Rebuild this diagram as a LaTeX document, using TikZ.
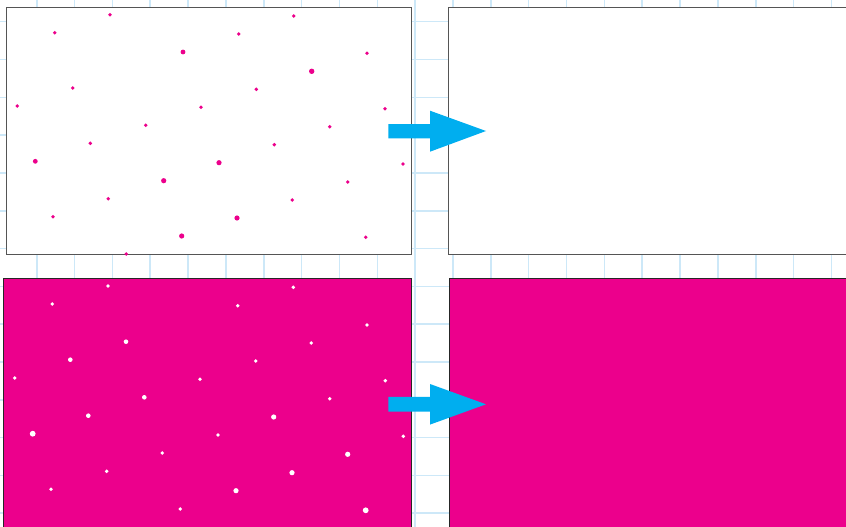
\documentclass[tikz,border=0pt]{standalone}
\definecolor{gridblue}{RGB}{205,232,248}
\definecolor{pmag}{RGB}{236,0,140}
\definecolor{pcyan}{RGB}{0,174,239}
\definecolor{frame}{RGB}{85,85,85}
\begin{document}
\begin{tikzpicture}[x=1pt,y=-1pt,
  gridline/.style={draw=gridblue,line width=1.6pt},
  panel/.style={draw=frame,line width=0.9pt},
  bigarrow/.style={fill=pcyan,draw=none}]
\useasboundingbox (0,0) rectangle (846,527);
\clip (0,0) rectangle (846,527);
\fill[white] (0,0) rectangle (846,527);
% grid
\foreach \i in {0,...,22} \draw[gridline] ({-1.1+37.84*\i},0) -- ++(0,527);
\foreach \j in {0,...,13} \draw[gridline] (0,{21.7+37.8*\j}) -- ++(846,0);
% panels
\draw[panel,fill=white] (6,7) rectangle (411,254);
\draw[panel,fill=white] (448.7,7) rectangle (852,254);
\draw[panel,draw=black!85,fill=pmag] (3.3,278.3) rectangle (411.7,532);
\draw[panel,draw=black!85,fill=pmag] (449,278.3) rectangle (852,532);
% dots top-left (magenta)
\foreach \x/\y/\r in {110/14.7/1.9, 293.7/16/1.9, 54.7/32.7/1.9, 238.7/34/1.9,
  183/52/2.4, 367/53.3/1.9, 311.7/71.3/2.7, 72.7/88/1.9, 256.3/89.3/1.9,
  17.3/106/1.9, 201/107.3/1.9, 385/108.7/1.9, 145.7/125.3/1.9, 329.7/126.7/1.9,
  90.3/143.3/1.9, 274.3/144.7/1.9, 35.3/161.3/2.4, 219/162.7/2.6, 403/164/1.9,
  163.7/180.7/2.6, 347.7/182/1.9, 108.3/198.7/1.9, 292.3/200/1.9, 53/216.7/1.9,
  237/218/2.6, 181.7/236/2.6, 365.7/237.3/1.9, 126.3/254/1.9}
  \fill[pmag] (\x,\y) circle (\r pt);
% dots bottom-left (white)
\foreach \x/\y/\r in {108/286/1.9, 293.3/287.3/1.9, 52.3/304/1.9, 237.7/305.7/1.9,
  367/325/1.9, 126/341.7/2.3, 311.3/343/1.9, 70.3/359.7/2.3, 255.7/361/1.9,
  14.7/378/1.9, 200/379.3/1.9, 385.3/380.7/1.9, 144.3/397.3/2.3, 329.7/398.7/1.9,
  88.3/415.7/2.3, 273.7/417/2.6, 32.7/433.7/2.9, 218/435/1.9, 403.3/436.3/1.9,
  162.3/453/1.9, 347.7/454.3/2.6, 106.7/471.3/1.9, 292/472.7/2.6, 51/489.3/1.9,
  236/490.7/2.6, 180.3/509/1.9, 365.7/510.3/2.9}
  \fill[white] (\x,\y) circle (\r pt);
% arrows
\fill[bigarrow] (388.3,124) -- (430,124) -- (430,110.7) -- (486,131)
  -- (430,151.7) -- (430,138.3) -- (388.3,138.3) -- cycle;
\fill[bigarrow] (388.3,396.9) -- (430,396.9) -- (430,384) -- (486,404.3)
  -- (430,424.6) -- (430,411.7) -- (388.3,411.7) -- cycle;
\end{tikzpicture}
\end{document}
